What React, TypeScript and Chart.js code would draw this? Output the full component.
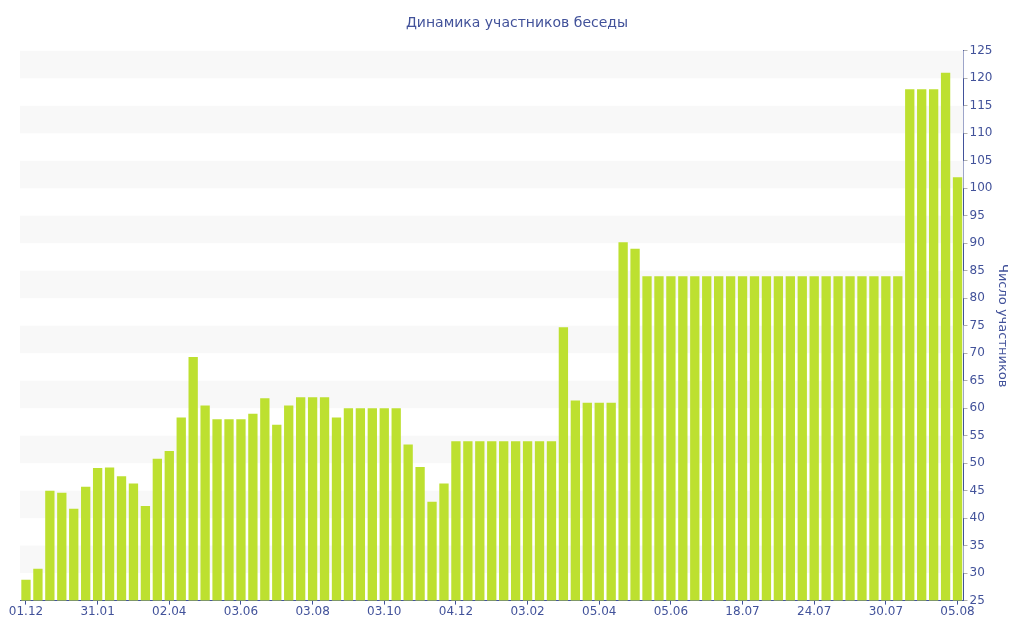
import { useEffect, useRef } from "react"
import { Chart, registerables } from "chart.js"
import type { ChartConfiguration, Plugin } from "chart.js"

Chart.register(...registerables)

// labels shown every 6th bar, the rest of the categories stay blank
const tickLabels = ["01.12", "31.01", "02.04", "03.06", "03.08", "03.10", "04.12", "03.02", "05.04", "05.06", "18.07", "24.07", "30.07", "05.08"]

const members = [
  28.8, 30.8, 45, 44.6, 41.7, 45.7, 49.1, 49.2, 47.6, 46.3,
  42.2, 50.8, 52.2, 58.3, 69.3, 60.5, 58, 58, 58, 59,
  61.8, 57, 60.5, 62, 62, 62, 58.3, 60, 60, 60,
  60, 60, 53.4, 49.3, 43, 46.3, 54, 54, 54, 54,
  54, 54, 54, 54, 54, 74.7, 61.4, 61, 61, 61,
  90.2, 89, 84, 84, 84, 84, 84, 84, 84, 84,
  84, 84, 84, 84, 84, 84, 84, 84, 84, 84,
  84, 84, 84, 84, 118, 118, 118, 121, 102,
]

const categories = members.map((_, i) => (i % 6 === 0 ? tickLabels[i / 6] : ""))

const yMin = 25
const yMax = 125

const INK = "#42529a"
const FONT = "'DejaVu Sans', Verdana, sans-serif"

// alternating horizontal bands behind the bars
const bands: Plugin<"bar"> = {
  id: "bands",
  beforeDatasetsDraw(chart) {
    const { ctx, chartArea } = chart
    const y = chart.scales.y
    ctx.save()
    ctx.fillStyle = "#f8f8f8"
    for (let v = yMin + 5; v < yMax; v += 10) {
      const top = y.getPixelForValue(v + 5)
      const bottom = y.getPixelForValue(v)
      ctx.fillRect(chartArea.left, top, chartArea.right - chartArea.left, bottom - top)
    }
    ctx.restore()
  },
}

export default function App() {
  const ref = useRef<HTMLCanvasElement>(null)

  useEffect(() => {
    document.body.style.margin = "0"
    if (!ref.current) return
    const config: ChartConfiguration<"bar"> = {
      type: "bar",
      data: {
        labels: categories,
        datasets: [
          {
            label: "Число участников",
            data: members,
            backgroundColor: "#bde030",
            borderWidth: 0,
            categoryPercentage: 1,
            barPercentage: 0.78,
          },
        ],
      },
      options: {
        animation: false,
        responsive: false,
        layout: { padding: { left: 20, right: 10, top: 0, bottom: 21 } },
        plugins: {
          legend: { display: false },
          tooltip: { enabled: false },
          title: {
            display: true,
            text: "Динамика участников беседы",
            color: INK,
            font: { family: FONT, size: 14, weight: "normal" },
            padding: { top: 15, bottom: 19 },
          },
        },
        scales: {
          x: {
            grid: { display: true, drawOnChartArea: false, offset: false, color: INK, tickLength: 4 },
            border: { color: INK },
            ticks: {
              autoSkip: false,
              maxRotation: 0,
              color: INK,
              font: { family: FONT, size: 12 },
              padding: 0,
              callback: (_v, i) => categories[i] || null,
            },
          },
          y: {
            position: "right",
            min: yMin,
            max: yMax,
            grid: { display: true, drawOnChartArea: false, color: "#b0b0b0", tickLength: 4 },
            border: { color: INK },
            ticks: {
              stepSize: 2.5,
              color: INK,
              font: { family: FONT, size: 12 },
              padding: 2,
              callback: (v) => (Number(v) % 5 === 0 ? String(v) : ""),
            },
            title: {
              display: true,
              text: "Число участников",
              color: INK,
              font: { family: FONT, size: 13 },
              padding: { top: 4, bottom: 0 },
            },
          },
        },
      },
      plugins: [bands],
    }
    const chart = new Chart(ref.current, config)
    return () => chart.destroy()
  }, [])

  return <canvas ref={ref} width={1024} height={640} style={{ display: "block" }} />
}
